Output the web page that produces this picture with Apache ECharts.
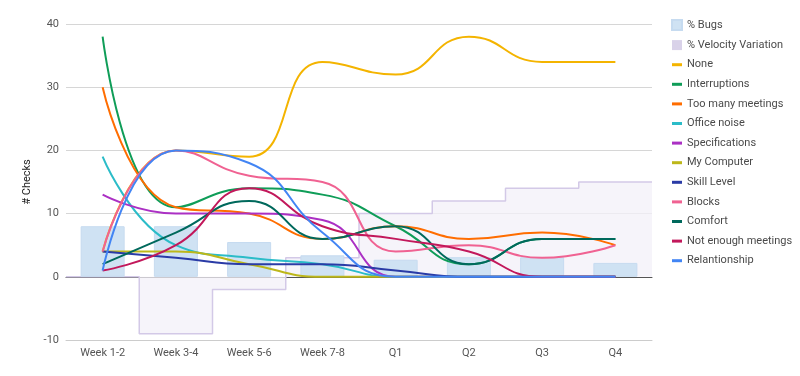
<!DOCTYPE html>
<html>
<head>
<meta charset="utf-8">
<script src="https://cdn.jsdelivr.net/npm/echarts@6/dist/echarts.min.js"></script>
<style>html,body{margin:0;padding:0;background:#fff}#c{width:800px;height:376px}</style>
</head>
<body>
<div id="c"></div>
<script>
const categories = ['Week 1-2','Week 3-4','Week 5-6','Week 7-8','Q1','Q2','Q3','Q4'];
const yTicks = [-10, 0, 10, 20, 30, 40];
const bugs = [8, 8, 5.5, 3.4, 2.7, 3.1, 3.1, 2.2];
const velocity = [0, -9, -2, 3, 10, 12, 14, 15];
const none = [4, 20, 19, 34, 32, 38, 34, 34];
const interruptions = [38, 11, 14, 13, 8, 2, 6, 6];
const tooManyMeetings = [30, 11, 10, 6, 8, 6, 7, 5];
const officeNoise = [19, 5, 3, 2, 0, 0, 0, 0];
const specifications = [13, 10, 10, 9, 0, 0, 0, 0];
const myComputer = [4, 4, 2, 0, 0, 0, 0, 0];
const skillLevel = [4, 3, 2, 2, 1, 0, 0, 0];
const blocks = [4, 20, 16, 15, 4, 5, 3, 5];
const comfort = [2, 7, 12, 6, 8, 2, 6, 6];
const notEnoughMeetings = [1, 5, 14, 8, 6, 4, 0, 0];
const relantionship = [1, 20, 18, 7, 0, 0, 0, 0];

const lineSeries = [
  ['None', none, '#f4b400'],
  ['Interruptions', interruptions, '#0f9d58'],
  ['Too many meetings', tooManyMeetings, '#ff6d00'],
  ['Office noise', officeNoise, '#2bbcc8'],
  ['Specifications', specifications, '#ab30c4'],
  ['My Computer', myComputer, '#bdb71a'],
  ['Skill Level', skillLevel, '#2a3ba6'],
  ['Blocks', blocks, '#f06292'],
  ['Comfort', comfort, '#00695c'],
  ['Not enough meetings', notEnoughMeetings, '#c2185b'],
  ['Relantionship', relantionship, '#4285f4']
];

// step-area data: each category value spans its whole band
const velocityData = velocity.map((v, i) => [i, v]).concat([[velocity.length, velocity[velocity.length - 1]]]);

const lineIcon = 'path://M0,0h10v3h-10z';
const legendData = [
  {name: '% Bugs', icon: 'rect'},
  {name: '% Velocity Variation', icon: 'rect'}
].concat(lineSeries.map(s => ({name: s[0], icon: lineIcon})));

const chart = echarts.init(document.getElementById('c'), null, {renderer: 'canvas'});
chart.setOption({
  animation: false,
  textStyle: {fontFamily: 'Roboto'},
  legend: {
    orient: 'vertical', left: 671, top: 19, padding: 0,
    itemWidth: 10, itemHeight: 10, itemGap: 8.6,
    textStyle: {fontSize: 11, color: '#4a4a4a', fontFamily: 'Roboto'},
    data: legendData
  },
  grid: {left: 66, right: 148, top: 24, bottom: 36},
  xAxis: [
    {
      type: 'category', data: categories,
      axisLine: {show: true, onZero: false, lineStyle: {color: '#ccc'}},
      axisTick: {show: false},
      axisLabel: {color: '#555', fontSize: 11, margin: 8}
    },
    {
      type: 'value', min: 0, max: categories.length, show: true,
      axisLine: {show: true, onZero: true, lineStyle: {color: '#555'}},
      axisTick: {show: false}, axisLabel: {show: false}, splitLine: {show: false}
    }
  ],
  yAxis: {
    type: 'value', min: yTicks[0], max: yTicks[yTicks.length - 1], interval: 10,
    name: '# Checks', nameLocation: 'middle', nameGap: 29,
    nameTextStyle: {fontSize: 11, color: '#222'},
    axisLine: {show: false}, axisTick: {show: false},
    axisLabel: {color: '#555', fontSize: 11, margin: 7},
    splitLine: {lineStyle: {color: '#d6d6d6'}}
  },
  series: [
    {
      name: '% Velocity Variation', type: 'line', xAxisIndex: 1, data: velocityData,
      step: 'end', symbol: 'none', z: 1,
      color: '#d9d2e9',
      lineStyle: {color: '#d3c9e7', width: 1.5},
      areaStyle: {color: '#f3f0f8', opacity: 0.75}
    },
    {
      name: '% Bugs', type: 'bar', data: bugs, barWidth: 44, z: 2,
      itemStyle: {color: '#cfe2f3', borderColor: '#c6dbf0', borderWidth: 1}
    }
  ].concat(lineSeries.map(s => ({
    name: s[0], type: 'line', data: s[1], smooth: 0.5, symbol: 'none',
    color: s[2], lineStyle: {width: 2, color: s[2]}, z: 3
  })))
});
</script>
</body>
</html>
